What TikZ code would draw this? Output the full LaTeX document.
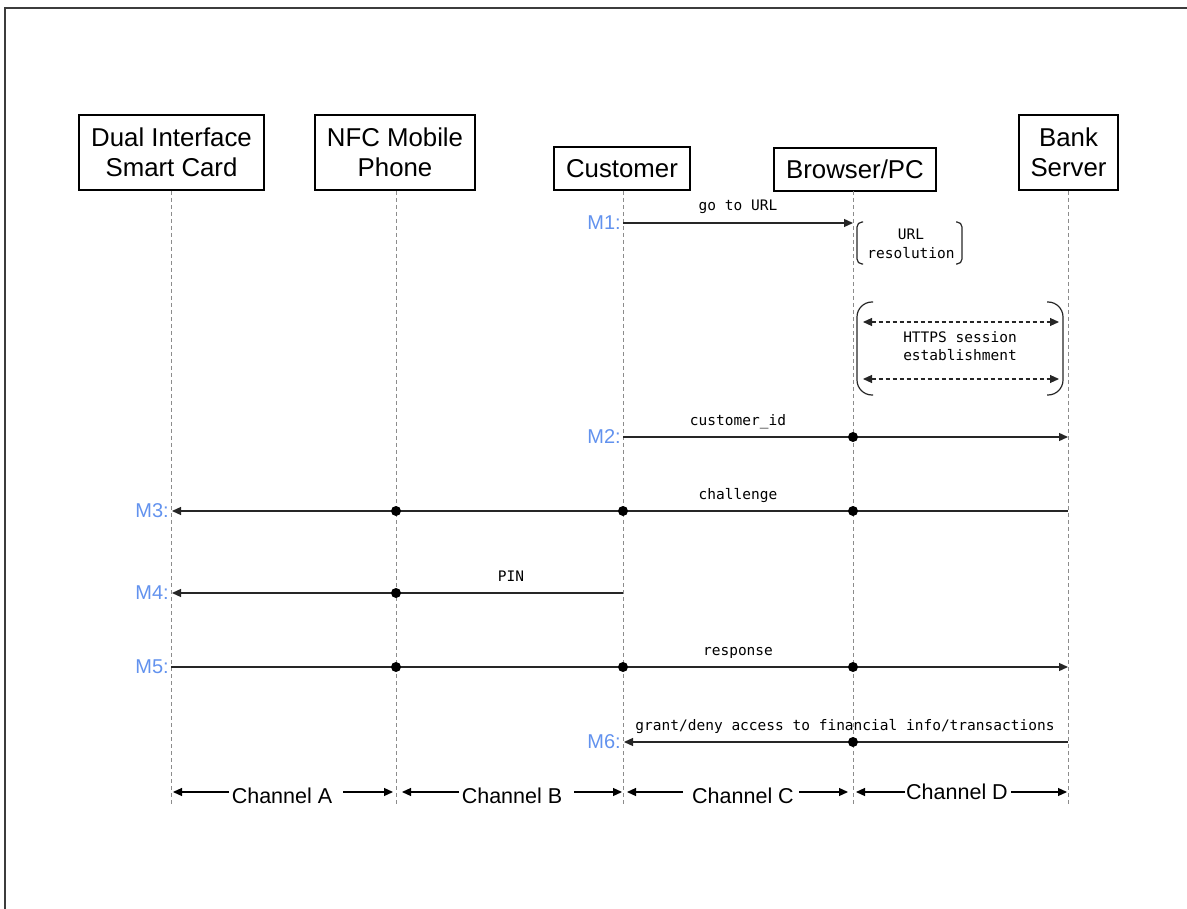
\documentclass[tikz,border=0pt]{standalone}
\usepackage{fontspec}
\setmainfont{Liberation Sans}
\newfontfamily\codefont{DejaVu Sans Mono}
\usetikzlibrary{arrows.meta}
\definecolor{mblue}{RGB}{98,146,238}
\definecolor{lifegray}{RGB}{140,140,140}
\definecolor{framegray}{RGB}{60,60,60}

\begin{document}
\begin{tikzpicture}[x=1pt,y=-1pt,
  actor/.style={draw, line width=1.3pt, align=center, inner sep=0pt,
    font=\fontsize{25.8}{30}\selectfont},
  lifeline/.style={draw=lifegray, line width=1pt, dash pattern=on 4pt off 3pt},
  msg/.style={draw=black!85, line width=1.3pt},
  tip/.style={-{Triangle[length=9pt,width=8pt]}},
  dot/.style={circle, fill=black, inner sep=0pt, minimum size=10pt},
  mlabel/.style={text=mblue, font=\fontsize{20}{24}\selectfont, anchor=east, inner sep=0pt},
  code/.style={font=\codefont\fontsize{14.5}{18.5}\selectfont, align=center, inner sep=0pt},
  bracket/.style={draw=black!85, line width=1.2pt},
  session/.style={draw=black!85, line width=1.1pt, dash pattern=on 4pt off 3pt,
    {Triangle[length=9pt,width=8pt]}-{Triangle[length=9pt,width=8pt]}},
  chlabel/.style={font=\fontsize{21.5}{26}\selectfont, inner sep=0pt},
  chan/.style={draw=black, line width=1.2pt, -{Triangle[length=9pt,width=8pt]}},
]
\useasboundingbox (0,0) rectangle (1187,909);

% outer frame
\draw[framegray, line width=1.5pt] (5,909) -- (5,8) -- (1187,8);

% participants
\node[actor, minimum width=185pt, minimum height=75pt] (card) at (171.5,152.5) {Dual Interface\\Smart Card};
\node[actor, minimum width=160pt, minimum height=75pt] (nfc) at (395,152.5) {NFC Mobile\\Phone};
\node[actor, minimum width=136pt, minimum height=43pt] (cust) at (622,168.5) {Customer};
\node[actor, minimum width=162pt, minimum height=43pt] (brow) at (855,169.5) {Browser/PC};
\node[actor, minimum width=99pt, minimum height=75pt] (bank) at (1068.5,152.5) {Bank\\Server};

% lifeline heads and foot
\coordinate (Lcard) at (171,191);
\coordinate (Lnfc) at (396,191);
\coordinate (Lcust) at (623,191);
\coordinate (Lbrow) at (853,191);
\coordinate (Lbank) at (1068,191);
\coordinate (foot) at (0,805);
\foreach \L in {Lcard,Lnfc,Lcust,Lbrow,Lbank}
  \draw[lifeline] (\L) -- (\L |- foot);

% message rows
\coordinate (r1) at (0,223);
\coordinate (r2) at (0,437);
\coordinate (r3) at (0,511);
\coordinate (r4) at (0,593);
\coordinate (r5) at (0,667);
\coordinate (r6) at (0,742);

% M1: go to URL
\draw[msg,tip] (Lcust |- r1) -- (Lbrow |- r1);
\node[code, anchor=base] (t1) at (738,211) {go to URL};
\node[mlabel] (m1) at (621,223) {M1:};

% URL resolution
\draw[bracket, rounded corners=5pt] (863,222) -- (857,222) -- (857,264) -- (863,264);
\draw[bracket, rounded corners=5pt] (956,222) -- (962,222) -- (962,264) -- (956,264);
\node[code] (urlres) at (911,244) {URL\\resolution};

% HTTPS session establishment
\draw[bracket, rounded corners=15pt] (873,302) -- (857,302) -- (857,395) -- (873,395);
\draw[bracket, rounded corners=15pt] (1047,302) -- (1063,302) -- (1063,395) -- (1047,395);
\coordinate (hA) at (863,322);
\coordinate (hB) at (1059,322);
\coordinate (hC) at (863,379);
\coordinate (hD) at (1059,379);
\draw[session] (hA) -- (hB);
\draw[session] (hC) -- (hD);
\node[code] (https) at (960,346) {HTTPS session\\establishment};

% M2: customer_id
\draw[msg,tip] (Lcust |- r2) -- (Lbank |- r2);
\node[dot] (d2b) at (Lbrow |- r2) {};
\node[code, anchor=base] (t2) at (738,425) {customer\_id};
\node[mlabel] (m2) at (621,437) {M2:};

% M3: challenge
\draw[msg,tip] (Lbank |- r3) -- ([xshift=1pt]Lcard |- r3);
\node[dot] (d3b) at (Lbrow |- r3) {};
\node[dot] (d3c) at (Lcust |- r3) {};
\node[dot] (d3n) at (Lnfc |- r3) {};
\node[code, anchor=base] (t3) at (738,499) {challenge};
\node[mlabel] (m3) at (169,511) {M3:};

% M4: PIN
\draw[msg,tip] (Lcust |- r4) -- ([xshift=1pt]Lcard |- r4);
\node[dot] (d4n) at (Lnfc |- r4) {};
\node[code, anchor=base] (t4) at (511,581) {PIN};
\node[mlabel] (m4) at (169,593) {M4:};

% M5: response
\draw[msg,tip] (Lcard |- r5) -- (Lbank |- r5);
\node[dot] (d5n) at (Lnfc |- r5) {};
\node[dot] (d5c) at (Lcust |- r5) {};
\node[dot] (d5b) at (Lbrow |- r5) {};
\node[code, anchor=base] (t5) at (738,655) {response};
\node[mlabel] (m5) at (169,667) {M5:};

% M6: grant/deny
\draw[msg,tip] (Lbank |- r6) -- ([xshift=1pt]Lcust |- r6);
\node[dot] (d6b) at (Lbrow |- r6) {};
\node[code, anchor=base] (t6) at (845,730) {grant/deny access to financial info/transactions};
\node[mlabel] (m6) at (621,742) {M6:};

% channels
\coordinate (ch) at (0,792);
\node[chlabel] (chA) at (282,796) {Channel A};
\node[chlabel] (chB) at (512,796) {Channel B};
\node[chlabel] (chC) at (743,796) {Channel C};
\node[chlabel] (chD) at (957,792) {Channel D};
\coordinate (aL) at (229,792);
\coordinate (aR) at (343,792);
\coordinate (bL) at (459,792);
\coordinate (bR) at (574,792);
\coordinate (cL) at (683,792);
\coordinate (cR) at (799,792);
\coordinate (dL) at (905,792);
\coordinate (dR) at (1011,792);
\draw[chan] (aL) -- ([xshift=2pt]Lcard |- ch);
\draw[chan] (aR) -- ([xshift=-3pt]Lnfc |- ch);
\draw[chan] (bL) -- ([xshift=6pt]Lnfc |- ch);
\draw[chan] (bR) -- ([xshift=-1pt]Lcust |- ch);
\draw[chan] (cL) -- ([xshift=4pt]Lcust |- ch);
\draw[chan] (cR) -- ([xshift=-5pt]Lbrow |- ch);
\draw[chan] (dL) -- ([xshift=3pt]Lbrow |- ch);
\draw[chan] (dR) -- ([xshift=-1pt]Lbank |- ch);
\end{tikzpicture}
\end{document}
